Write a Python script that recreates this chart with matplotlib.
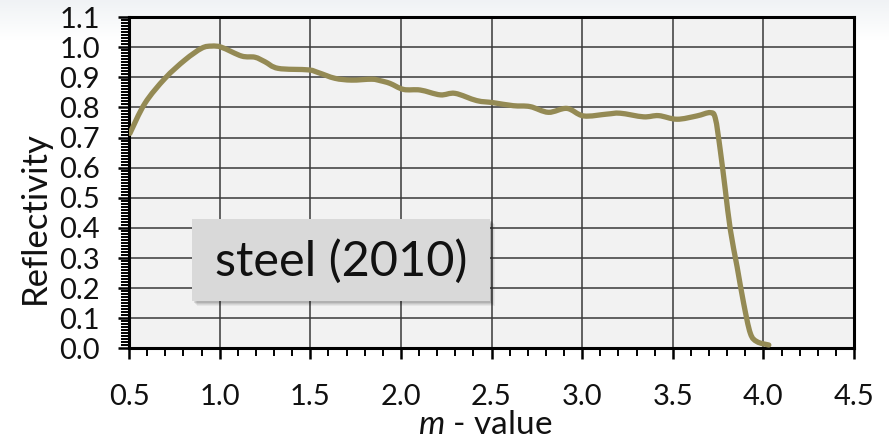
import numpy as np
import matplotlib
matplotlib.use("Agg")
import matplotlib.pyplot as plt
from matplotlib.patches import Rectangle, PathPatch
from matplotlib.path import Path
from matplotlib.ticker import MultipleLocator

plt.rcParams['font.family'] = ['Lato', 'DejaVu Sans']
plt.rcParams['mathtext.fontset'] = 'custom'
plt.rcParams['mathtext.it'] = 'Lato:italic'
plt.rcParams['mathtext.rm'] = 'Lato'

# m-value and measured reflectivity of the steel supermirror
m_value = [0.505, 0.588, 0.699, 0.809, 0.901, 0.956, 1.011, 1.121, 1.195, 1.250,
           1.323, 1.489, 1.544, 1.636, 1.728, 1.839, 1.887, 1.940, 2.015, 2.107,
           2.217, 2.299, 2.418, 2.510, 2.620, 2.713, 2.814, 2.916, 3.008, 3.136,
           3.210, 3.339, 3.422, 3.523, 3.633, 3.707, 3.735, 3.762, 3.790, 3.818,
           3.855, 3.891, 3.928, 3.965, 4.030]
reflectivity = [0.714, 0.814, 0.897, 0.958, 0.997, 1.004, 1.000, 0.971, 0.967, 0.952,
                0.930, 0.925, 0.916, 0.897, 0.891, 0.894, 0.889, 0.880, 0.860, 0.858,
                0.842, 0.847, 0.823, 0.816, 0.806, 0.803, 0.784, 0.797, 0.772, 0.778,
                0.781, 0.769, 0.773, 0.761, 0.772, 0.783, 0.764, 0.659, 0.526, 0.393,
                0.271, 0.150, 0.050, 0.022, 0.011]

x_ticks = [0.5, 1.0, 1.5, 2.0, 2.5, 3.0, 3.5, 4.0, 4.5]
y_ticks = [0.0, 0.1, 0.2, 0.3, 0.4, 0.5, 0.6, 0.7, 0.8, 0.9, 1.0, 1.1]
label_text = "steel (2010)"


def smooth_path(xs, ys, tension=1 / 6):
    """Cubic Bezier path through the points (Catmull-Rom style smoothing)."""
    pts = np.column_stack([xs, ys])
    n = len(pts)
    verts = [pts[0]]
    codes = [Path.MOVETO]
    for i in range(n - 1):
        p0 = pts[max(i - 1, 0)]
        p1 = pts[i]
        p2 = pts[i + 1]
        p3 = pts[min(i + 2, n - 1)]
        c1 = p1 + (p2 - p0) * tension
        c2 = p2 - (p3 - p1) * tension
        verts += [c1, c2, p2]
        codes += [Path.CURVE4] * 3
    return Path(verts, codes)


fig = plt.figure(figsize=(8.89, 4.44), dpi=100)

# faint slide-style shading along the top edge
bg = fig.add_axes([0, 0, 1, 1], zorder=-10)
grad = np.ones((444, 1, 3))
shade = np.clip(1 - np.arange(444) / 40.0, 0, 1)[:, None]
grad = grad - shade[..., None] * np.array([0.06, 0.05, 0.04])
bg.imshow(grad, aspect='auto', extent=[0, 1, 0, 1], origin='upper')
bg.axis('off')

ax = fig.add_axes([129 / 889, (444 - 348.3) / 444, (854 - 129) / 889, (348.3 - 17.2) / 444])
ax.set_facecolor('#f2f2f2')

curve = PathPatch(smooth_path(m_value, reflectivity), facecolor='none', edgecolor='#948a54',
                  lw=3.8, joinstyle='round', capstyle='round', zorder=3)
ax.add_patch(curve)

ax.set_xlim(0.5, 4.5)
ax.set_ylim(0.0, 1.1)
ax.set_xticks(x_ticks)
ax.set_yticks(y_ticks)
ax.set_xticklabels([f"{v:.1f}" for v in x_ticks])
ax.set_yticklabels([f"{v:.1f}" for v in y_ticks])
ax.xaxis.set_minor_locator(MultipleLocator(0.1))
ax.yaxis.set_minor_locator(MultipleLocator(0.01))

ax.grid(True, which='major', color='#3a3a3a', lw=1.1, zorder=1)
ax.set_axisbelow(True)

ax.tick_params(which='major', direction='out', length=8, width=1.8, color='black',
               labelsize=21, pad=13, labelcolor='#111111')
ax.tick_params(axis='x', which='major', pad=18)
ax.tick_params(which='minor', direction='out', length=5.5, width=1.4, color='black')

for side in ['left', 'bottom', 'top', 'right']:
    ax.spines[side].set_linewidth(2.2)
    ax.spines[side].set_color('black')

ax.set_xlabel(r"$m$ - value", fontsize=24, color='#111111')
ax.xaxis.set_label_coords(0.491, -0.186)
ax.set_ylabel("Reflectivity", fontsize=25, color='#111111', va='center')
ax.yaxis.set_label_coords(-0.1297, 0.3935)

# annotation box with a soft drop shadow
bx0, by0, bw, bh = 192 / 889, (444 - 301) / 444, (490 - 192) / 889, (301 - 219) / 444
for i, a in enumerate([0.05, 0.06, 0.08, 0.10]):
    off = (4 - i) / 889
    fig.patches.append(Rectangle((bx0 + off + 1 / 889, by0 - off * 889 / 444 - 1 / 444), bw, bh,
                                 transform=fig.transFigure, facecolor='black', alpha=a,
                                 edgecolor='none', zorder=5))
fig.patches.append(Rectangle((bx0, by0), bw, bh, transform=fig.transFigure,
                             facecolor='#d9d9d9', edgecolor='none', zorder=6))
fig.text(bx0 + bw / 2, by0 + bh / 2 - 1 / 444, label_text, fontsize=35, ha='center',
         va='center', color='#111111', zorder=7)

fig.savefig("out.png", dpi=100)
